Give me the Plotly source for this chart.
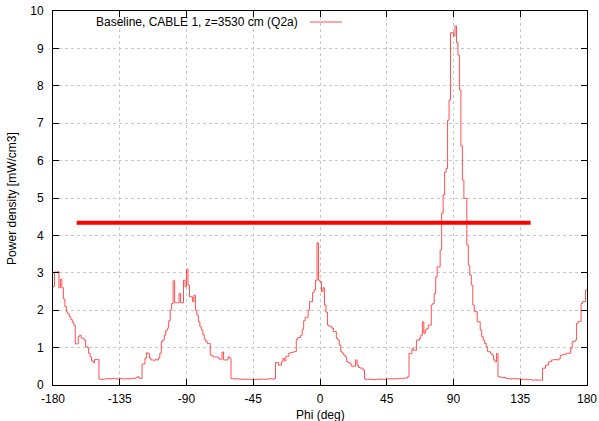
import numpy as np
import plotly.graph_objects as go

# Phi bins (deg), 1-degree wide, start edges -180..179
phi_start = -180
phi_step = 1
density = [
    2.63, 3.02, 3.02, 3.03, 2.6, 2.83, 2.6, 2.3, 2.1, 1.95,      # -180
    1.9, 1.82, 1.75, 1.68, 1.6, 1.1, 1.1, 1.3, 1.33, 1.25,       # -170
    1.25, 1.2, 1.03, 1.0, 0.85, 0.75, 0.65, 0.6, 0.68, 0.68,     # -160
    0.68, 0.16, 0.15, 0.15, 0.16, 0.16, 0.17, 0.17, 0.16, 0.17,  # -150
    0.18, 0.17, 0.17, 0.16, 0.17, 0.18, 0.17, 0.16, 0.16, 0.17,  # -140
    0.17, 0.16, 0.17, 0.18, 0.17, 0.18, 0.2, 0.22, 0.18, 0.17,   # -130
    0.56, 0.56, 0.72, 0.86, 0.84, 0.72, 0.67, 0.67, 0.66, 0.68,  # -120
    0.67, 0.72, 0.85, 1.16, 1.2, 1.33, 1.45, 1.52, 1.72, 2.0,    # -110
    2.18, 2.79, 2.2, 2.2, 2.2, 2.45, 2.2, 2.2, 2.8, 2.63,        # -100
    3.1, 2.67, 2.36, 2.36, 2.23, 2.4, 2.0, 1.87, 1.7, 1.56,      # -90
    1.47, 1.34, 1.22, 1.16, 1.11, 1.11, 0.8, 0.78, 0.75, 0.75,   # -80
    0.75, 0.73, 0.69, 0.69, 0.88, 0.67, 0.67, 0.67, 0.75, 0.72,  # -70
    0.17, 0.17, 0.16, 0.17, 0.16, 0.16, 0.15, 0.16, 0.15, 0.15,  # -60
    0.16, 0.15, 0.16, 0.15, 0.15, 0.14, 0.15, 0.15, 0.16, 0.15,  # -50
    0.15, 0.16, 0.16, 0.15, 0.16, 0.16, 0.17, 0.16, 0.16, 0.17,  # -40
    0.6, 0.6, 0.53, 0.53, 0.62, 0.71, 0.65, 0.77, 0.77, 0.85,    # -30
    0.87, 0.87, 0.89, 0.89, 1.22, 1.27, 1.27, 1.33, 1.49, 1.72,  # -20
    1.81, 1.81, 2.0, 2.23, 2.23, 2.47, 2.54, 2.8, 3.8, 2.8,      # -10
    2.76, 2.5, 2.6, 2.14, 1.95, 1.6, 1.58, 1.56, 1.52, 1.43,     # 0
    1.43, 1.25, 1.2, 1.07, 0.89, 0.85, 0.8, 0.75, 0.62, 0.6,     # 10
    0.58, 0.51, 0.5, 0.5, 0.67, 0.53, 0.47, 0.45, 0.45, 0.4,     # 20
    0.16, 0.15, 0.15, 0.16, 0.15, 0.15, 0.14, 0.15, 0.15, 0.16,  # 30
    0.15, 0.16, 0.15, 0.15, 0.16, 0.17, 0.16, 0.16, 0.17, 0.16,  # 40
    0.17, 0.16, 0.17, 0.17, 0.18, 0.17, 0.18, 0.18, 0.19, 0.22,  # 50
    0.84, 0.84, 0.98, 0.93, 0.93, 1.2, 1.2, 1.25, 1.33, 1.69,    # 60
    1.38, 1.47, 1.51, 1.6, 1.6, 2.14, 2.18, 2.45, 2.89, 3.16,    # 70
    3.16, 3.61, 4.59, 5.08, 5.69, 5.79, 7.08, 7.62, 9.42, 9.42,  # 80
    9.33, 9.6, 9.15, 8.82, 7.89, 6.39, 5.48, 4.99, 4.99, 3.74,   # 90
    3.2, 2.94, 2.67, 2.14, 1.96, 1.96, 1.69, 1.69, 1.47, 1.29,   # 100
    1.2, 1.11, 1.02, 0.89, 0.89, 0.84, 0.8, 0.67, 0.62, 0.84,    # 110
    0.22, 0.22, 0.2, 0.2, 0.2, 0.18, 0.17, 0.17, 0.16, 0.17,     # 120
    0.17, 0.16, 0.17, 0.16, 0.16, 0.15, 0.16, 0.15, 0.15, 0.15,  # 130
    0.14, 0.15, 0.14, 0.13, 0.13, 0.14, 0.13, 0.13, 0.13, 0.13,  # 140
    0.45, 0.45, 0.53, 0.53, 0.62, 0.62, 0.67, 0.67, 0.68, 0.68,  # 150
    0.67, 0.7, 0.8, 0.8, 0.82, 0.82, 0.85, 0.85, 0.85, 0.98,     # 160
    1.16, 1.16, 1.2, 1.65, 1.7, 1.7, 2.18, 2.23, 2.23, 2.54,     # 170
]

# Thick reference level line
level_x = [-164, 142]
level_y = [4.34, 4.34]

x_ticks = [-180, -135, -90, -45, 0, 45, 90, 135, 180]
y_ticks = list(range(0, 11))

legend_label = "Baseline, CABLE 1, z=3530 cm (Q2a)"
x_title = "Phi (deg)"
y_title = "Power density [mW/cm3]"

phi = [phi_start + i * phi_step for i in range(len(density))]
phi_plot = phi + [phi[-1] + phi_step]
dens_plot = density + [density[-1]]

trace_color = "rgb(255,80,80)"
font_family = "Liberation Sans, Arial, sans-serif"

fig = go.Figure()
fig.add_trace(go.Scatter(
    x=phi_plot, y=dens_plot, mode="lines", line_shape="hv",
    line=dict(color=trace_color, width=1), name=legend_label,
    showlegend=False,
))
fig.add_trace(go.Scatter(
    x=level_x, y=level_y, mode="lines",
    line=dict(color="#ff0000", width=4), showlegend=False,
))

axis_common = dict(
    showline=True, linecolor="black", linewidth=1, mirror="ticks",
    ticks="inside", ticklen=6, tickcolor="black", tickwidth=1,
    showgrid=True, gridcolor="#c8c8c8", griddash="dot", gridwidth=1,
    zeroline=False, automargin=False,
    tickfont=dict(family=font_family, size=12, color="black"),
)

fig.update_xaxes(range=[-180, 180], tickvals=x_ticks, ticktext=[str(v) for v in x_ticks],
                 ticklabelstandoff=3, **axis_common)
fig.update_yaxes(range=[0, 10], tickvals=y_ticks, ticklabelstandoff=6, **axis_common)

# Axis titles
fig.add_annotation(x=0.5, y=-0.08, xref="paper", yref="paper", text=x_title,
                   showarrow=False, xanchor="center", yanchor="middle",
                   font=dict(family=font_family, size=12, color="black"))
fig.add_annotation(x=-0.077, y=0.5, xref="paper", yref="paper", text=y_title,
                   showarrow=False, xanchor="center", yanchor="middle", textangle=-90,
                   font=dict(family=font_family, size=12, color="black"))

# Gnuplot-style key: text then sample line
fig.add_annotation(x=0.4625, y=0.9706, xref="paper", yref="paper", text=legend_label,
                   showarrow=False, xanchor="right", yanchor="middle",
                   font=dict(family=font_family, size=12, color="black"))
fig.add_shape(type="line", xref="paper", yref="paper", x0=0.481, x1=0.541, y0=0.9706, y1=0.9706,
              line=dict(color=trace_color, width=1))

fig.update_layout(
    width=599, height=421,
    margin=dict(l=53, r=12, t=11, b=36),
    paper_bgcolor="white", plot_bgcolor="white",
    font=dict(family=font_family, size=12, color="black"),
)

fig.write_html("out.html")
